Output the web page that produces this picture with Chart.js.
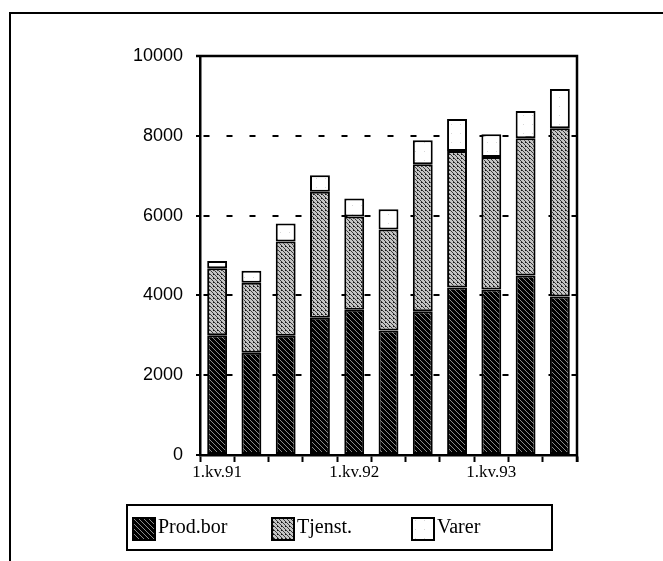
<!DOCTYPE html>
<html>
<head>
<meta charset="utf-8">
<script src="https://cdn.jsdelivr.net/npm/chart.js@4/dist/chart.umd.min.js"></script>
<style>
html,body{margin:0;padding:0;background:#fff;}
#wrap{width:663px;height:561px;position:relative;}
</style>
</head>
<body>
<div id="wrap"><canvas id="c" width="663" height="561"></canvas></div>
<script>
// ---- data ----
const quarters = ['1.kv.91','2.kv.91','3.kv.91','4.kv.91','1.kv.92','2.kv.92','3.kv.92','4.kv.92','1.kv.93','2.kv.93','3.kv.93'];
const shownTicks = ['1.kv.91','1.kv.92','1.kv.93'];
const prodBor = [3000, 2560, 2990, 3440, 3640, 3120, 3600, 4200, 4150, 4500, 3970];
const tjenst  = [1680, 1760, 2360, 3160, 2340, 2530, 3690, 3420, 3320, 3440, 4220];
const varer   = [180, 300, 450, 410, 450, 510, 600, 800, 570, 680, 980];
const seriesNames = ['Prod.bor', 'Tjenst.', 'Varer'];
const yTicks = [0, 2000, 4000, 6000, 8000, 10000];

// ---- patterns ----
function hatch(bg, fg, s, lw, dots) {
  const cv = document.createElement('canvas');
  cv.width = s; cv.height = s;
  const g = cv.getContext('2d');
  g.fillStyle = bg; g.fillRect(0, 0, s, s);
  if (fg) {
    g.strokeStyle = fg; g.lineWidth = lw;
    g.beginPath();
    for (const k of [-s, 0, s]) { g.moveTo(k, 0); g.lineTo(k + s, s); }
    g.stroke();
  }
  if (dots) {
    g.fillStyle = dots;
    g.fillRect(1, s - 2, 1, 1);
  }
  return g.createPattern(cv, 'repeat');
}
const ctx = document.getElementById('c').getContext('2d');
const fills = [
  hatch('#000', '#8a8a8a', 5, 1),
  hatch('#c4c4c4', '#2a2a2a', 4, 0.9, '#111'),
  hatch('#ffffff', null, 9, 1, '#d8d8d8')
];

const framePlugin = {
  id: 'frame',
  beforeDraw(chart) {
    const c = chart.ctx;
    c.save();
    c.fillStyle = '#fff';
    c.fillRect(0, 0, chart.width, chart.height);
    c.strokeStyle = '#000';
    c.lineWidth = 2;
    c.beginPath();
    c.moveTo(10, chart.height);
    c.lineTo(10, 13);
    c.lineTo(chart.width, 13);
    c.stroke();
    c.restore();
  },
  afterDraw(chart) {
    const c = chart.ctx, a = chart.chartArea;
    c.save();
    c.strokeStyle = '#000';
    c.lineWidth = 2.5;
    c.beginPath();
    c.moveTo(a.left - 4, a.top);
    c.lineTo(a.right, a.top);
    c.lineTo(a.right, a.bottom + 7);
    c.stroke();
    // legend box
    c.lineWidth = 2;
    c.strokeRect(127, 505, 425, 45);
    const xs = [133, 272, 412];
    c.font = '20px "Liberation Serif", serif';
    c.textBaseline = 'middle';
    chart.data.datasets.forEach((ds, i) => {
      c.fillStyle = ds.backgroundColor;
      c.fillRect(xs[i], 518, 22, 22);
      c.lineWidth = 2;
      c.strokeRect(xs[i], 518, 22, 22);
      c.fillStyle = '#000';
      c.fillText(ds.label, xs[i] + 25, 528);
    });
    c.restore();
  }
};

new Chart(ctx, {
  type: 'bar',
  data: {
    labels: quarters,
    datasets: [
      { label: seriesNames[0], data: prodBor, backgroundColor: fills[0] },
      { label: seriesNames[1], data: tjenst, backgroundColor: fills[1] },
      { label: seriesNames[2], data: varer, backgroundColor: fills[2] }
    ]
  },
  options: {
    responsive: false,
    animation: false,
    devicePixelRatio: 1,
    layout: { padding: { left: 0, right: 86, top: 56, bottom: 0 } },
    datasets: {
      bar: {
        borderColor: '#000',
        borderWidth: 2,
        borderSkipped: false,
        categoryPercentage: 1,
        barPercentage: 0.58
      }
    },
    plugins: { legend: { display: false }, tooltip: { enabled: false } },
    scales: {
      x: {
        stacked: true,
        afterFit(s) { s.height = 106; },
        grid: { display: true, drawOnChartArea: false, drawTicks: true, tickLength: 7, tickColor: '#000', tickWidth: 2, offset: true },
        border: { display: true, color: '#000', width: 2.5 },
        ticks: {
          autoSkip: false, maxRotation: 0, padding: 0, color: '#000',
          font: { family: '"Liberation Serif", serif', size: 17 },
          callback(v) { const l = quarters[v]; return shownTicks.includes(l) ? l : ''; }
        }
      },
      y: {
        stacked: true,
        min: 0, max: 10000,
        afterFit(s) { s.width = 200; },
        afterBuildTicks(s) { s.ticks = yTicks.map(v => ({ value: v })); },
        grid: {
          drawOnChartArea: true, drawTicks: true, tickLength: 4, tickWidth: 2,
          lineWidth: 2,
          color: (c) => (c.tick && (c.tick.value === 0 || c.tick.value === 10000)) ? 'rgba(0,0,0,0)' : '#000',
          tickColor: '#000'
        },
        border: { display: true, color: '#000', width: 2.5, dash: [6, 17], dashOffset: -2 },
        ticks: {
          padding: 13, color: '#000',
          font: { family: '"Liberation Sans", sans-serif', size: 18 },
          callback(v) { return String(v); }
        }
      }
    }
  },
  plugins: [framePlugin]
});
</script>
</body>
</html>
